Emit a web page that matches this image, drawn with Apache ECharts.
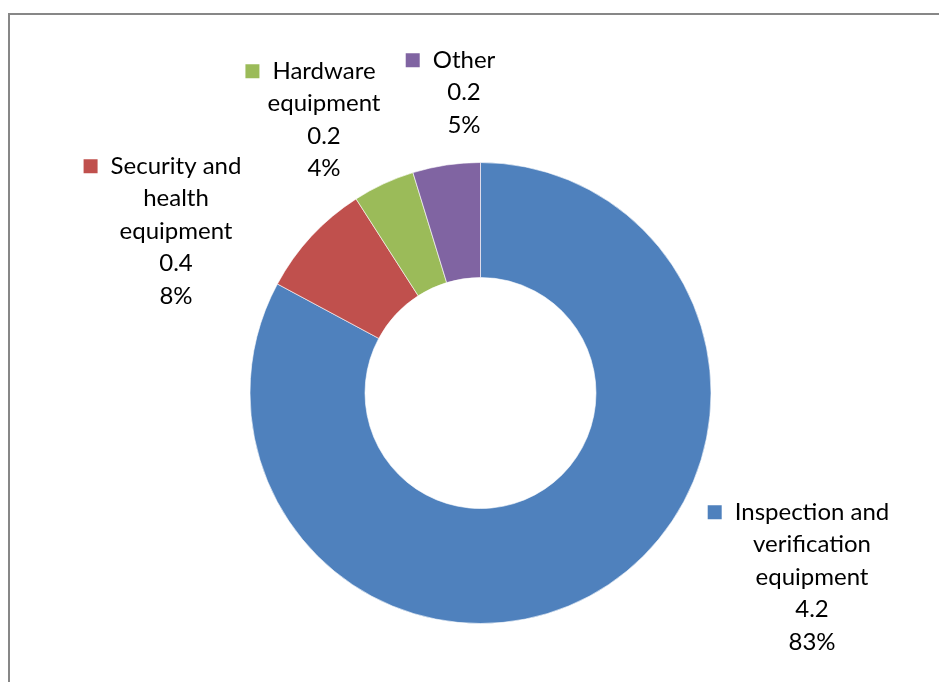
<!DOCTYPE html>
<html>
<head>
<meta charset="utf-8">
<script src="https://cdn.jsdelivr.net/npm/echarts@6/dist/echarts.min.js"></script>
<style>
  html, body { margin: 0; padding: 0; background: #fff; }
  #chart { width: 939px; height: 682px; }
</style>
</head>
<body>
<div id="chart"></div>
<script>
// Segment names (one label line per array entry) and their values
const categories = [
  ['Inspection and', 'verification', 'equipment'],
  ['Security and', 'health', 'equipment'],
  ['Hardware', 'equipment'],
  ['Other']
];
const values = [4.2, 0.41, 0.22, 0.24];
const colors = ['#4F81BD', '#C0504D', '#9BBB59', '#8064A2'];

// Where each data label block sits (centre x, top y)
const labelAnchors = [
  [812, 496],
  [176, 150],
  [324, 55],
  [464, 44]
];

const FONT = 'Lato';
const total = values.reduce((a, b) => a + b, 0);

const chart = echarts.init(document.getElementById('chart'), null, { renderer: 'canvas' });

const rich = {
  t: { fontFamily: FONT, fontSize: 24, color: '#000', lineHeight: 32.5 },
  gap: { width: 13, height: 14 },
  pad: { width: 27, height: 14 }
};
colors.forEach((c, i) => {
  rich['sq' + i] = { width: 14, height: 14, backgroundColor: c };
});

chart.setOption({
  animation: false,
  backgroundColor: '#fff',
  graphic: [
    { type: 'line', shape: { x1: 8, y1: 14, x2: 939, y2: 14 }, style: { stroke: '#878787', lineWidth: 2 } },
    { type: 'line', shape: { x1: 9, y1: 13, x2: 9, y2: 682 }, style: { stroke: '#878787', lineWidth: 2 } }
  ],
  series: [{
    type: 'pie',
    center: [480.5, 393],
    radius: [115.5, 230.5],
    startAngle: 90,
    clockwise: true,
    avoidLabelOverlap: false,
    itemStyle: { borderColor: '#fff', borderWidth: 0.6 },
    data: values.map((v, i) => ({
      name: categories[i].join(' '),
      value: v,
      itemStyle: { color: colors[i] }
    })),
    label: {
      show: true,
      position: 'outside',
      align: 'center',
      fontFamily: FONT,
      fontSize: 24,
      lineHeight: 32.5,
      color: '#000',
      rich: rich,
      formatter: (p) => {
        const i = p.dataIndex;
        const lines = categories[i];
        const out = ['{sq' + i + '|}{gap|}{t|' + lines[0] + '}{pad|}'];
        for (let k = 1; k < lines.length; k++) out.push('{t|' + lines[k] + '}');
        out.push('{t|' + p.value.toFixed(1) + '}');
        out.push('{t|' + Math.round(p.value / total * 100) + '%}');
        return out.join('\n');
      }
    },
    labelLine: { show: false },
    labelLayout: (params) => {
      const a = labelAnchors[params.dataIndex];
      return { x: a[0], y: a[1], align: 'center', verticalAlign: 'top' };
    },
    emphasis: { disabled: true }
  }]
});
</script>
</body>
</html>
